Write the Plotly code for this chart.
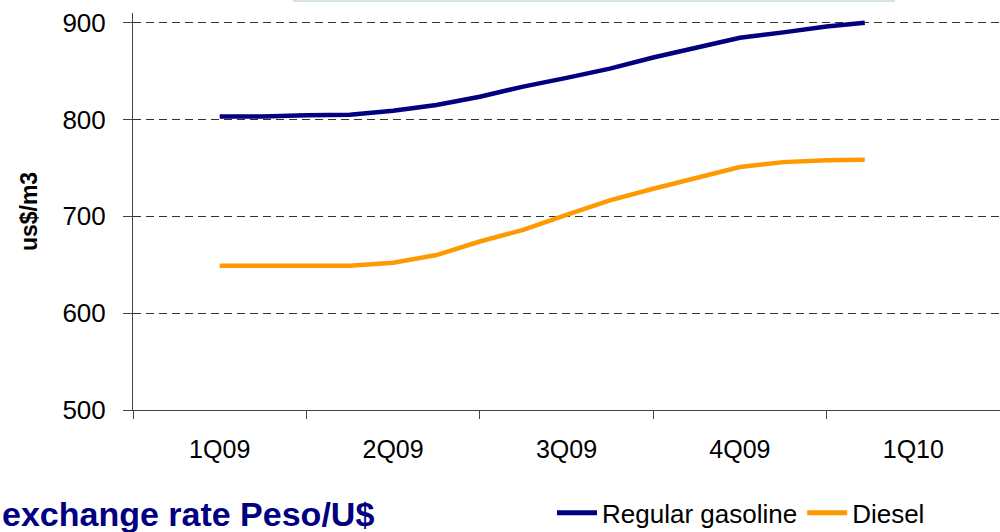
import plotly.graph_objects as go

quarters = ["1Q09", "2Q09", "3Q09", "4Q09", "1Q10"]
# positions along the quarter axis (index units, quarter centres at 0..4)
x_pos = [0, 0.25, 0.5, 0.75, 1.0, 1.25, 1.5, 1.75, 2.0, 2.25, 2.5, 2.75, 3.0, 3.25, 3.5, 3.72]
gasoline = [803, 803, 804.5, 805, 809, 815, 823.5, 834, 843, 852.5, 864, 874, 884.5, 890, 896, 900]
diesel = [649, 649, 649, 649, 652, 660, 674, 686, 701.5, 716.5, 728.5, 740, 751, 756, 758, 758.5]
y_ticks = [500, 600, 700, 800, 900]

FONT = "Liberation Sans, Arial, sans-serif"

fig = go.Figure()
fig.add_trace(go.Scatter(x=x_pos, y=gasoline, mode="lines", name="Regular gasoline",
                         line=dict(color="#000080", width=4.5)))
fig.add_trace(go.Scatter(x=x_pos, y=diesel, mode="lines", name="Diesel",
                         line=dict(color="#FF9900", width=4.5)))

fig.update_layout(
    width=1000, height=532,
    margin=dict(l=133, r=0, t=13, b=122, autoexpand=False),
    paper_bgcolor="white", plot_bgcolor="white",
    font=dict(family=FONT, color="black"),
    showlegend=True,
    legend=dict(orientation="h", xref="container", yref="container",
                x=0.552, xanchor="left", y=0.036, yanchor="middle",
                font=dict(size=26, family=FONT, color="black"),
                itemwidth=40, tracegroupgap=0, bgcolor="rgba(0,0,0,0)",
                itemsizing="constant"),
)

fig.update_xaxes(
    range=[-0.5, 4.5], automargin=False,
    tickmode="array", tickvals=list(range(len(quarters))), ticktext=quarters,
    ticks="", showgrid=False, zeroline=False,
    showline=True, linecolor="#444", linewidth=1,
    tickfont=dict(size=25, family=FONT, color="black"),
    ticklabelstandoff=17,
    minor=dict(tick0=-0.5, dtick=1, ticks="outside", ticklen=8, tickcolor="#444", showgrid=False),
)

fig.update_yaxes(
    range=[500, 910], automargin=False,
    tickmode="array", tickvals=y_ticks,
    ticks="outside", ticklen=9, tickcolor="#444",
    showline=True, linecolor="#444", linewidth=1,
    showgrid=True, gridcolor="#333", gridwidth=1, griddash="8px,5px",
    zeroline=False,
    tickfont=dict(size=26, family=FONT, color="black"),
    ticklabelstandoff=12,
    title=dict(text="<b>us$/m3</b>", font=dict(size=23, family=FONT, color="black"), standoff=18),
)

fig.add_annotation(
    text="<b>exchange rate Peso/U$</b>", xref="paper", yref="paper",
    x=-0.1534, y=-0.262, xanchor="left", yanchor="middle", showarrow=False,
    font=dict(size=34, family=FONT, color="#000080"),
)

fig.add_shape(type="rect", xref="paper", yref="paper",
              x0=0.1845, x1=0.879, y0=1.0277, y1=1.04,
              line=dict(width=0), fillcolor="#D5E3EA", layer="below")

fig.write_html("out.html", config={"displayModeBar": False},
               post_script="document.body.style.margin='0';document.body.style.overflow='hidden';")
